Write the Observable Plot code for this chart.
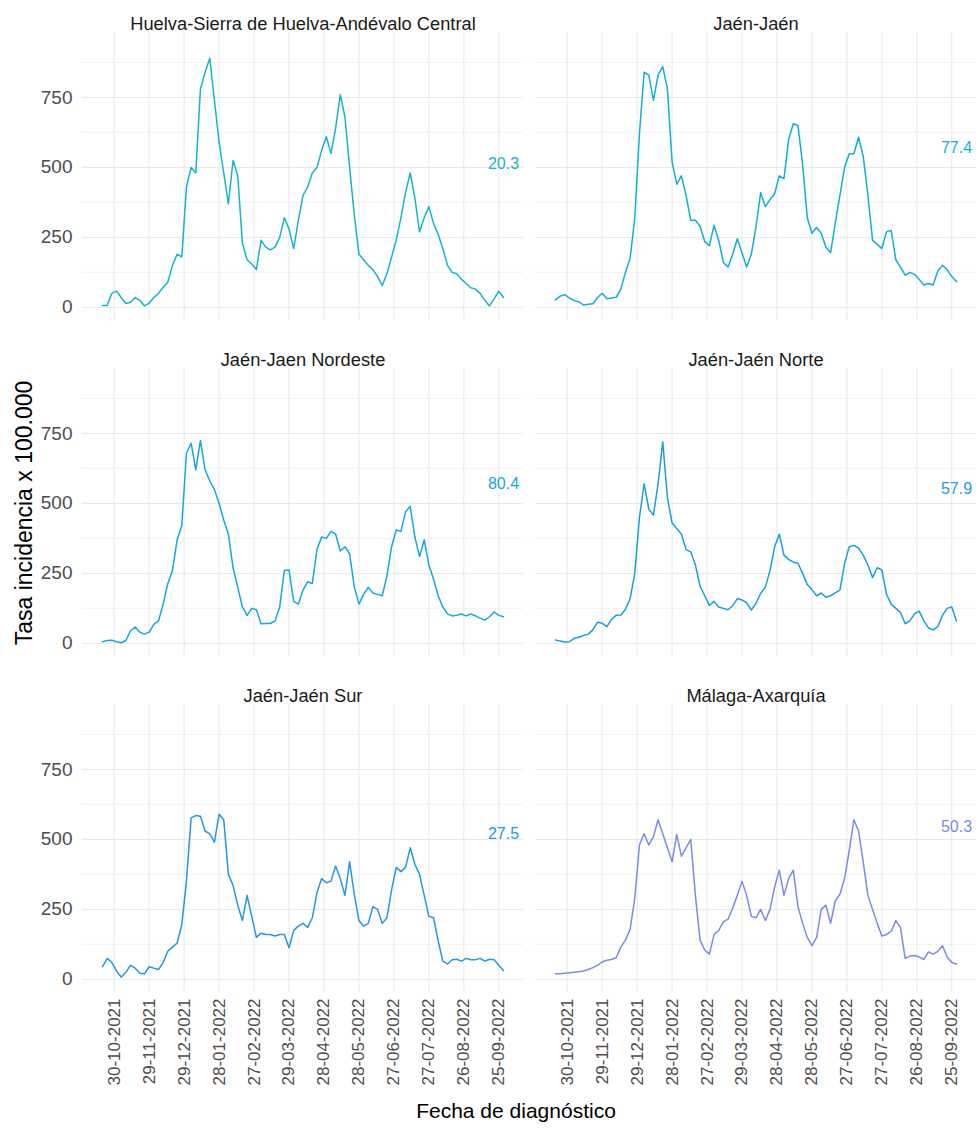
<!DOCTYPE html>
<html><head><meta charset="utf-8">
<script src="https://cdn.jsdelivr.net/npm/d3@7"></script>
<script src="https://cdn.jsdelivr.net/npm/@observablehq/plot@0.6"></script>
<style>
body{margin:0;background:#fff;}
#chart{position:relative;width:976px;height:1128px;}
</style>
</head><body><div id="chart"></div>
<script>
const districts = ["Huelva-Sierra de Huelva-Andévalo Central","Jaén-Jaén","Jaén-Jaen Nordeste","Jaén-Jaén Norte","Jaén-Jaén Sur","Málaga-Axarquía"];
const lineColors = ["#12B6CA","#10AFD8","#14A8E0","#199FE0","#2596E8","#7A8AEE"];
const finalLabels = ["20.3","77.4","80.4","57.9","27.5","50.3"];
const labelY = [514,571,571,553,518,546];
const startDate = "2021-10-20";
const stepDays = 4;
const tickDates = ["2021-10-30","2021-11-29","2021-12-29","2022-01-28","2022-02-27","2022-03-29","2022-04-28","2022-05-28","2022-06-27","2022-07-27","2022-08-26","2022-09-25"];
const yTicks = [0,250,500,750];
const yMinor = [125,375,625,875];

const huelva = [7,7,50,58,35,14,18,35,25,5,
 15,35,50,72,90,150,190,180,430,500,
 480,780,840,890,740,590,480,370,525,470,
 230,170,155,135,240,215,205,215,250,320,
 280,210,310,400,430,480,500,560,610,550,
 640,760,680,500,330,190,170,150,135,110,
 78,120,180,240,320,410,480,390,270,320,
 360,300,260,210,150,125,120,100,85,70,
 65,50,25,5,30,58,35];
const jaen = [27,40,45,33,24,20,8,11,13,35,
 50,31,33,36,65,125,175,320,620,840,
 830,740,830,860,780,520,440,470,400,311,
 311,290,235,220,293,240,160,144,190,245,
 195,144,190,287,410,360,385,406,470,460,
 600,656,650,510,320,265,285,265,215,195,
 300,400,500,549,549,608,540,400,240,225,
 210,270,275,170,144,115,125,118,100,80,
 85,80,130,150,135,110,92];
const nordeste = [6,10,11,6,2,10,45,58,40,33,
 40,68,80,140,214,260,370,420,679,715,
 620,725,620,580,550,500,440,390,270,200,
 130,100,125,120,70,71,71,80,130,260,
 262,150,140,190,220,214,335,380,375,400,
 390,330,345,320,202,140,175,200,180,175,
 170,240,345,405,400,470,490,380,310,370,
 280,230,170,130,105,98,100,105,98,105,
 98,90,83,95,112,100,95];
const norte = [12,8,5,6,18,22,28,33,48,75,
 72,60,85,100,101,122,160,250,450,570,
 480,458,570,720,520,430,410,390,335,327,
 280,205,170,135,150,130,125,120,135,160,
 155,145,119,143,179,200,260,345,390,315,
 300,290,286,250,210,192,170,180,165,170,
 180,190,285,345,350,340,315,280,235,270,
 262,175,140,125,110,70,80,105,115,80,
 55,48,60,100,125,130,80];
const sur = [45,75,60,30,8,25,50,40,22,20,
 45,40,35,60,101,115,130,196,351,577,
 585,583,530,520,490,590,570,375,335,265,
 210,300,225,150,165,160,160,155,160,160,
 113,175,190,200,185,220,310,360,345,351,
 405,360,300,420,304,210,190,200,260,250,
 200,220,320,400,385,400,470,411,375,300,
 225,220,137,65,55,70,72,65,75,70,
 70,75,65,72,70,50,32];
const malaga = [20,20,22,24,25,27,30,35,42,50,
 62,68,71,77,115,140,179,290,480,520,
 480,510,570,520,470,420,518,440,470,500,
 300,140,105,90,160,175,205,215,255,300,
 350,300,225,220,250,210,250,330,390,300,
 360,390,260,200,150,120,150,250,265,200,
 280,304,360,460,570,530,420,300,250,200,
 155,160,172,210,185,75,83,85,80,71,
 98,90,100,120,80,60,55];

const seriesValues = [huelva, jaen, nordeste, norte, sur, malaga];

const start = new Date(startDate + "T00:00:00Z");
const rows = [];
seriesValues.forEach((vals, k) => vals.forEach((v, i) => rows.push({
  k, col: k % 2, row: Math.floor(k / 2), color: lineColors[k],
  date: d3.utcDay.offset(start, i * stepDays), value: v
})));
const lastDate = d3.max(rows, d => d.date);
const span = lastDate - start;
const xDomain = [new Date(+start - span * 0.05), new Date(+lastDate + span * 0.05)];

const panels = districts.map((name, k) => ({
  name, k, col: k % 2, row: Math.floor(k / 2), color: lineColors[k],
  label: finalLabels[k], ly: labelY[k], date: lastDate
}));
const ticks = tickDates.map(s => new Date(s + "T00:00:00Z"));

const plot = Plot.plot({
  width: 976, height: 1128,
  marginLeft: 82, marginRight: 0, marginTop: 32, marginBottom: 136,
  style: {fontFamily: "'Liberation Sans', Arial, sans-serif", fontSize: "17px", color: "#4d4d4d", background: "#fff"},
  fx: {domain: [0, 1], paddingInner: 0.0265, paddingOuter: 0, axis: null},
  fy: {domain: [0, 1, 2], paddingInner: 0.1429, paddingOuter: 0, axis: null},
  x: {type: "utc", domain: xDomain, ticks: ticks, tickFormat: d3.utcFormat("%d-%m-%Y"), tickRotate: -90, tickSize: 0, tickPadding: 6, label: null},
  y: {domain: [-47, 982], axis: null},
  color: {type: "identity"},
  marks: [
    Plot.gridY(yMinor, {stroke: "#f3f3f3", strokeOpacity: 1, strokeWidth: 1}),
    Plot.gridY(yTicks, {stroke: "#e8e8e8", strokeOpacity: 1, strokeWidth: 1}),
    Plot.gridX(ticks, {stroke: "#e8e8e8", strokeOpacity: 1, strokeWidth: 1}),
    Plot.axisY(yTicks, {tickSize: 0, tickPadding: 10, fontSize: 19, label: null}),
    Plot.lineY(rows, {x: "date", y: "value", fx: "col", fy: "row", z: "k", stroke: d => d.color, strokeWidth: 1.5}),
    Plot.text(panels, {x: "date", y: "ly", fx: "col", fy: "row", text: "label", fill: d => d.color, fontSize: 16}),
    Plot.text(panels, {fx: "col", fy: "row", text: "name", frameAnchor: "top", dy: -16, fill: "#1a1a1a", fontSize: 18.3})
  ]
});

const svg = d3.select(plot);
svg.append("text")
  .attr("transform", "translate(24,513) rotate(-90)")
  .attr("text-anchor", "middle").attr("dominant-baseline", "central")
  .attr("fill", "#000").style("font-size", "23px")
  .text("Tasa incidencia x 100.000");
svg.append("text")
  .attr("x", 516).attr("y", 1110)
  .attr("text-anchor", "middle").attr("dominant-baseline", "central")
  .attr("fill", "#000").style("font-size", "21px")
  .text("Fecha de diagnóstico");

document.getElementById("chart").appendChild(plot);
</script>
</body></html>
